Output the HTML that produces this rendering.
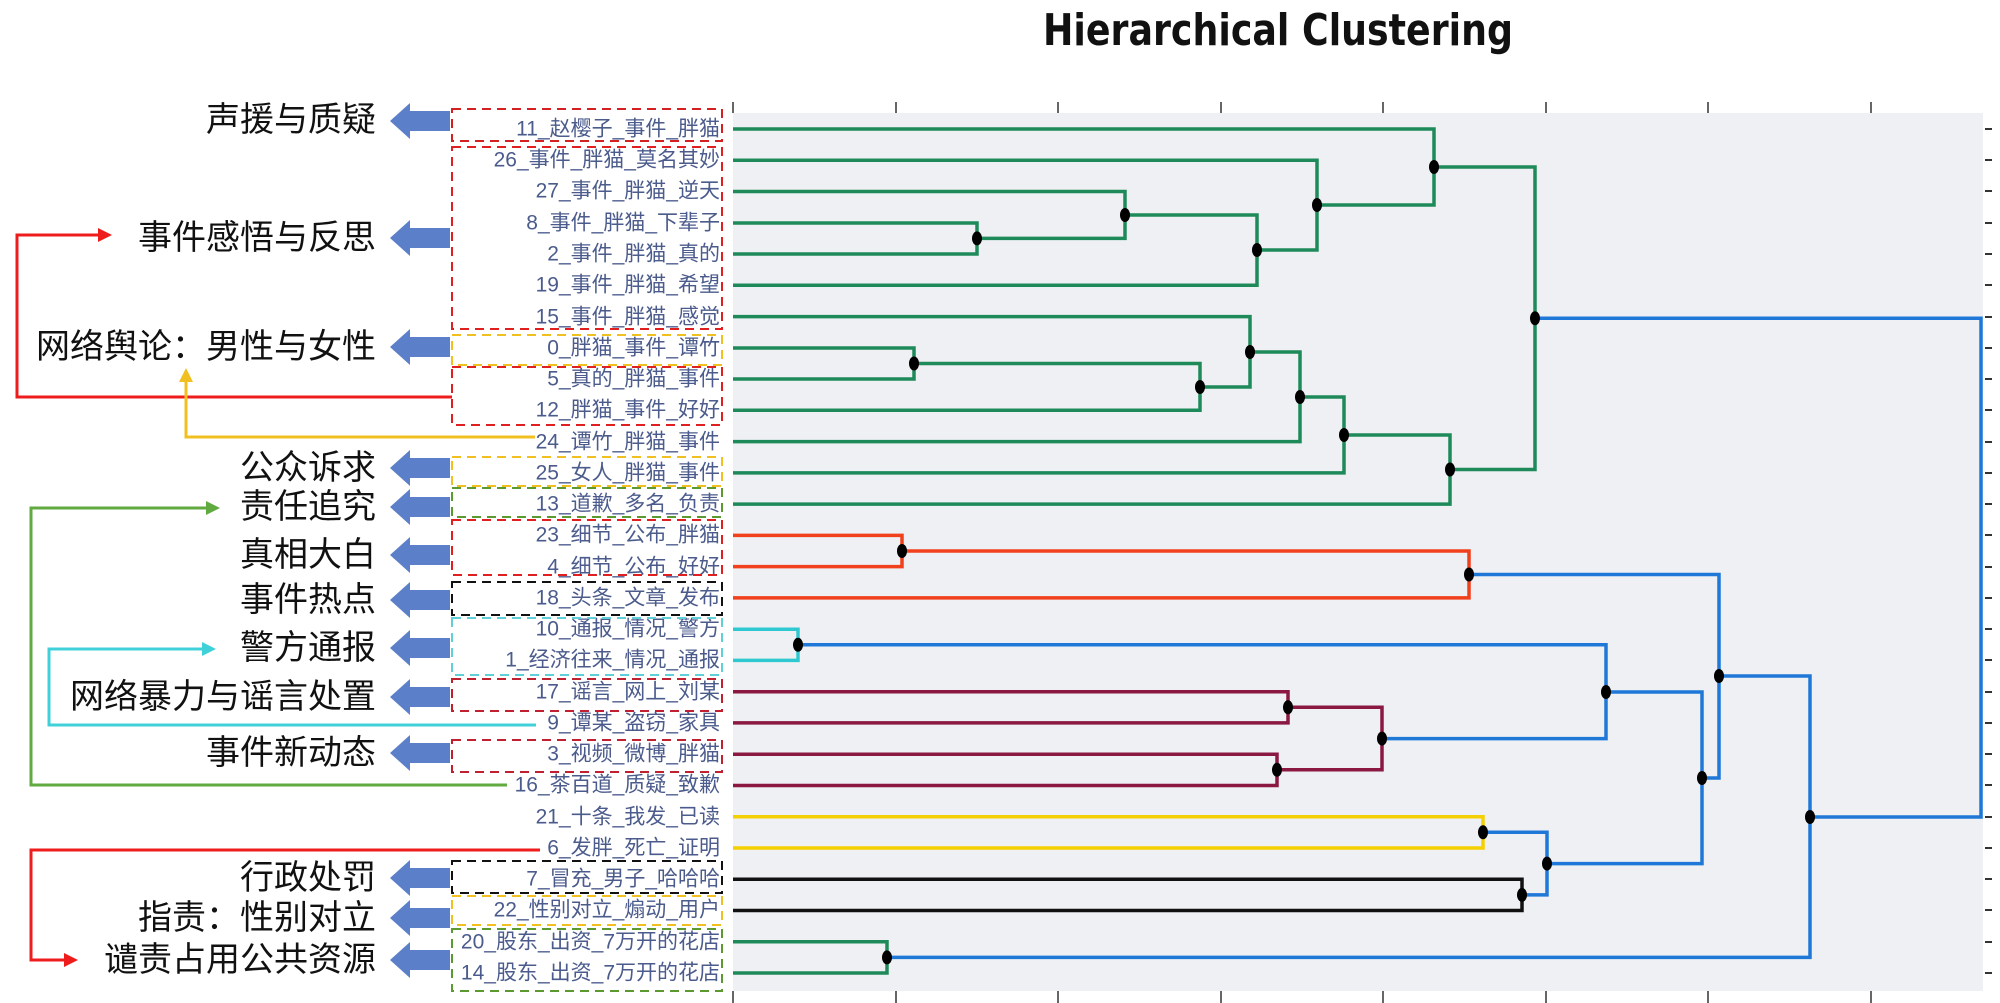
<!DOCTYPE html>
<html><head><meta charset="utf-8"><style>
html,body{margin:0;padding:0;background:#fff;}
svg{display:block;}
.lb{font-family:"Liberation Sans","Noto Sans CJK SC",sans-serif;font-size:21px;fill:#4b5b8c;}
.big{font-family:"Liberation Sans","Noto Sans CJK SC",sans-serif;font-size:34px;fill:#111;}
</style></head><body>
<svg width="2000" height="1003" viewBox="0 0 2000 1003" xmlns="http://www.w3.org/2000/svg">
<rect x="733" y="113" width="1250" height="878" fill="#eef0f3"/>
<text x="1043" y="45" textLength="470" lengthAdjust="spacingAndGlyphs" font-family="DejaVu Sans,Liberation Sans,sans-serif" font-weight="bold" font-size="44" fill="#111">Hierarchical Clustering</text>
<g stroke="#333" stroke-width="1.5">
<path d="M733 102V113M896 102V113M1058 102V113M1221 102V113M1383 102V113M1546 102V113M1708 102V113M1871 102V113"/>
<path d="M733 991V1003M896 991V1003M1058 991V1003M1221 991V1003M1383 991V1003M1546 991V1003M1708 991V1003M1871 991V1003"/>
</g>
<g class="lb" text-anchor="end" dominant-baseline="central">
<text x="720" y="129">11_赵樱子_事件_胖猫</text>
<text x="720" y="160">26_事件_胖猫_莫名其妙</text>
<text x="720" y="191">27_事件_胖猫_逆天</text>
<text x="720" y="223">8_事件_胖猫_下辈子</text>
<text x="720" y="254">2_事件_胖猫_真的</text>
<text x="720" y="285">19_事件_胖猫_希望</text>
<text x="720" y="317">15_事件_胖猫_感觉</text>
<text x="720" y="348">0_胖猫_事件_谭竹</text>
<text x="720" y="379">5_真的_胖猫_事件</text>
<text x="720" y="410">12_胖猫_事件_好好</text>
<text x="720" y="442">24_谭竹_胖猫_事件</text>
<text x="720" y="473">25_女人_胖猫_事件</text>
<text x="720" y="504">13_道歉_多名_负责</text>
<text x="720" y="535">23_细节_公布_胖猫</text>
<text x="720" y="567">4_细节_公布_好好</text>
<text x="720" y="598">18_头条_文章_发布</text>
<text x="720" y="629">10_通报_情况_警方</text>
<text x="720" y="660">1_经济往来_情况_通报</text>
<text x="720" y="692">17_谣言_网上_刘某</text>
<text x="720" y="723">9_谭某_盗窃_家具</text>
<text x="720" y="754">3_视频_微博_胖猫</text>
<text x="720" y="785">16_茶百道_质疑_致歉</text>
<text x="720" y="817">21_十条_我发_已读</text>
<text x="720" y="848">6_发胖_死亡_证明</text>
<text x="720" y="879">7_冒充_男子_哈哈哈</text>
<text x="720" y="910">22_性别对立_煽动_用户</text>
<text x="720" y="942">20_股东_出资_7万开的花店</text>
<text x="720" y="973">14_股东_出资_7万开的花店</text>
</g>
<g stroke-width="2" stroke-dasharray="9,6" fill="none">
<rect x="452" y="109" width="270" height="32" stroke="#d42020"/>
<rect x="452" y="147" width="270" height="182" stroke="#e02020"/>
<rect x="452" y="335" width="270" height="30" stroke="#f0c020"/>
<rect x="452" y="367" width="270" height="58" stroke="#e02020"/>
<rect x="452" y="457" width="270" height="29" stroke="#f0c020"/>
<rect x="452" y="488" width="270" height="29" stroke="#5a9a30"/>
<rect x="452" y="520" width="270" height="55" stroke="#e02020"/>
<rect x="452" y="582" width="270" height="33" stroke="#111"/>
<rect x="452" y="618" width="270" height="57" stroke="#60d0d8"/>
<rect x="452" y="679" width="270" height="32" stroke="#c02030"/>
<rect x="452" y="740" width="270" height="32" stroke="#c02030"/>
<rect x="452" y="861" width="270" height="32" stroke="#111"/>
<rect x="452" y="896" width="270" height="29" stroke="#f0c020"/>
<rect x="452" y="929" width="270" height="62" stroke="#5a9a30"/>
</g>
<g class="big" text-anchor="end" dominant-baseline="central">
<text x="376" y="120">声援与质疑</text>
<text x="376" y="238">事件感悟与反思</text>
<text x="376" y="347">网络舆论：男性与女性</text>
<text x="376" y="468">公众诉求</text>
<text x="376" y="507">责任追究</text>
<text x="376" y="555">真相大白</text>
<text x="376" y="600">事件热点</text>
<text x="376" y="648">警方通报</text>
<text x="376" y="697">网络暴力与谣言处置</text>
<text x="376" y="753">事件新动态</text>
<text x="376" y="878">行政处罚</text>
<text x="376" y="918">指责：性别对立</text>
<text x="376" y="960">谴责占用公共资源</text>
</g>
<g fill="#5b7fc8">
<path id="ar" d="M390 0 L410 -18 L410 -10 L450 -10 L450 10 L410 10 L410 18 Z" transform="translate(0,121)"/>
<use href="#ar" transform="translate(0,117)"/>
<use href="#ar" transform="translate(0,226)"/>
<use href="#ar" transform="translate(0,347)"/>
<use href="#ar" transform="translate(0,386)"/>
<use href="#ar" transform="translate(0,434)"/>
<use href="#ar" transform="translate(0,479)"/>
<use href="#ar" transform="translate(0,527)"/>
<use href="#ar" transform="translate(0,576)"/>
<use href="#ar" transform="translate(0,632)"/>
<use href="#ar" transform="translate(0,757)"/>
<use href="#ar" transform="translate(0,797)"/>
<use href="#ar" transform="translate(0,839)"/>
</g>
<g fill="none" stroke-width="3">
<path d="M452 397H17V235H100" stroke="#ee1c1c"/><path d="M112 235l-14 -7v14z" fill="#ee1c1c" stroke="none"/>
<path d="M535 437H186V380" stroke="#f0c020"/><path d="M186 368l-7 14h14z" fill="#f0c020" stroke="none"/>
<path d="M507 785H31V508H208" stroke="#60aa40"/><path d="M220 508l-14 -7v14z" fill="#60aa40" stroke="none"/>
<path d="M536 725H49V649H204" stroke="#40d0d8"/><path d="M216 649l-14 -7v14z" fill="#40d0d8" stroke="none"/>
<path d="M540 850H31V960H66" stroke="#ee1c1c"/><path d="M78 960l-14 -7v14z" fill="#ee1c1c" stroke="none"/>
</g>
<g fill="none" stroke-width="3.5">
<g stroke="#1e8a5a">
<path d="M733 223H977V254H733"/>
<path d="M733 191.5H1125V238.4H977"/>
<path d="M1125 215H1257V285.3H733"/>
<path d="M733 160.3H1317V250H1257"/>
<path d="M733 129H1434V205H1317"/>
<path d="M733 348H914V379H733"/>
<path d="M914 363.5H1200V410.3H733"/>
<path d="M733 316.6H1250V387H1200"/>
<path d="M1250 352H1300V441.6H733"/>
<path d="M1300 397H1344V472.9H733"/>
<path d="M1344 435H1450V504.1H733"/>
<path d="M1434 167H1535V469.5H1450"/>
<path d="M733 941.8H887V973H733"/>
</g>
<path d="M733 535.4H902V566.6H733M902 551H1469V597.9H733" stroke="#f0401c"/>
<path d="M733 629.2H798V660.4H733" stroke="#30c8d0"/>
<path d="M733 691.7H1288V722.9H733M733 754.2H1277V785.5H733M1288 707.3H1382V769.8H1277" stroke="#8a1840"/>
<path d="M733 816.7H1483V848H733" stroke="#f5d000"/>
<path d="M733 879.2H1522V910.5H733" stroke="#111"/>
<g stroke="#1f78d8">
<path d="M798 644.8H1606V738.6H1382"/>
<path d="M1483 832.3H1547V894.9H1522"/>
<path d="M1606 692H1702V863.6H1547"/>
<path d="M1469 574.5H1719V778H1702"/>
<path d="M1719 676H1810V957.4H887"/>
<path d="M1535 318.3H1981V817H1810"/>
</g>
</g>
<g fill="#000">
<ellipse cx="977" cy="238.4" rx="5" ry="7"/><ellipse cx="1125" cy="215" rx="5" ry="7"/>
<ellipse cx="1257" cy="250" rx="5" ry="7"/><ellipse cx="1317" cy="205" rx="5" ry="7"/>
<ellipse cx="1434" cy="167" rx="5" ry="7"/><ellipse cx="914" cy="363.5" rx="5" ry="7"/>
<ellipse cx="1200" cy="387" rx="5" ry="7"/><ellipse cx="1250" cy="352" rx="5" ry="7"/>
<ellipse cx="1300" cy="397" rx="5" ry="7"/><ellipse cx="1344" cy="435" rx="5" ry="7"/>
<ellipse cx="1450" cy="469.5" rx="5" ry="7"/><ellipse cx="1535" cy="318.3" rx="5" ry="7"/>
<ellipse cx="902" cy="551" rx="5" ry="7"/><ellipse cx="1469" cy="574.5" rx="5" ry="7"/>
<ellipse cx="798" cy="644.8" rx="5" ry="7"/><ellipse cx="1288" cy="707.3" rx="5" ry="7"/>
<ellipse cx="1277" cy="769.8" rx="5" ry="7"/><ellipse cx="1382" cy="738.6" rx="5" ry="7"/>
<ellipse cx="1606" cy="692" rx="5" ry="7"/><ellipse cx="1483" cy="832.3" rx="5" ry="7"/>
<ellipse cx="1522" cy="894.9" rx="5" ry="7"/><ellipse cx="1547" cy="863.6" rx="5" ry="7"/>
<ellipse cx="1702" cy="778" rx="5" ry="7"/><ellipse cx="1719" cy="676" rx="5" ry="7"/>
<ellipse cx="887" cy="957.4" rx="5" ry="7"/><ellipse cx="1810" cy="817" rx="5" ry="7"/>
</g>
<g stroke="#333" stroke-width="2">
<path d="M1985 129h7M1985 160h7M1985 191h7M1985 223h7M1985 254h7M1985 285h7M1985 317h7M1985 348h7M1985 379h7M1985 410h7M1985 442h7M1985 473h7M1985 504h7M1985 535h7M1985 567h7M1985 598h7M1985 629h7M1985 660h7M1985 692h7M1985 723h7M1985 754h7M1985 785h7M1985 817h7M1985 848h7M1985 879h7M1985 910h7M1985 942h7M1985 973h7"/>
</g>
</svg>
</body></html>
